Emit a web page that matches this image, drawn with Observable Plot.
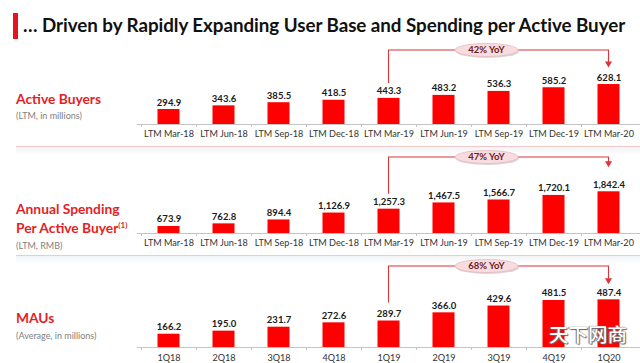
<!DOCTYPE html>
<html><head><meta charset="utf-8">
<script src="https://cdn.jsdelivr.net/npm/d3@7"></script>
<script src="https://cdn.jsdelivr.net/npm/@observablehq/plot@0.6"></script>
<style>
html,body{margin:0;padding:0;background:#fff;overflow:hidden;width:640px;height:363px;}
body{position:relative;font-family:Lato,"Open Sans",sans-serif;}
.abs{position:absolute;white-space:nowrap;}
.title{left:23px;top:13px;font-size:18.8px;font-weight:700;color:#111;letter-spacing:-0.05px;}
.tbar{left:13px;top:13px;width:5px;height:26px;background:#e8141b;}
.lab{color:#e31e24;font-weight:700;font-size:13.8px;line-height:17px;}
.sub{color:#808080;font-size:9px;}
.sep{left:16px;width:624px;height:1px;background:#efc9cc;}
.shade{left:16px;width:624px;height:8px;background:linear-gradient(#f3f4f6,#fff);}
.wm{left:549px;top:322px;font-family:"Noto Sans CJK SC";font-size:19.5px;line-height:24px;color:#fff;font-weight:500;
  text-shadow:0 0 1px #555,1px 1px 1px #666,-1px 0 1px #888;}
</style></head>
<body>
<div class="abs tbar"></div>
<div class="abs title">… Driven by Rapidly Expanding User Base and Spending per Active Buyer</div>

<div class="abs lab" style="left:16px;top:90px;">Active Buyers</div>
<div class="abs sub" style="left:16px;top:110px;">(LTM, in millions)</div>
<div class="abs sep" style="top:146px;"></div>
<div class="abs shade" style="top:147px;"></div>

<div class="abs lab" style="left:16px;top:200px;">Annual Spending<br>Per Active Buyer<sup style="font-size:8px;vertical-align:5px;">(1)</sup></div>
<div class="abs sub" style="left:16px;top:240px;">(LTM, RMB)</div>
<div class="abs sep" style="top:255px;"></div>
<div class="abs shade" style="top:256px;"></div>

<div class="abs lab" style="left:16px;top:309px;">MAUs</div>
<div class="abs sub" style="left:16px;top:330px;">(Average, in millions)</div>

<div id="p1" class="abs" style="left:0;top:38px;"></div>
<div id="p2" class="abs" style="left:0;top:145px;"></div>
<div id="p3" class="abs" style="left:0;top:255px;"></div>
<div class="abs wm">天下网商</div>

<script>
// ---- data ----
const ltmPeriods = ["LTM Mar-18","LTM Jun-18","LTM Sep-18","LTM Dec-18","LTM Mar-19","LTM Jun-19","LTM Sep-19","LTM Dec-19","LTM Mar-20"];
const quarters = ["1Q18","2Q18","3Q18","4Q18","1Q19","2Q19","3Q19","4Q19","1Q20"];
const activeBuyers = [294.9,343.6,385.5,418.5,443.3,483.2,536.3,585.2,628.1];
const annualSpending = [673.9,762.8,894.4,1126.9,1257.3,1467.5,1566.7,1720.1,1842.4];
const maus = [166.2,195.0,231.7,272.6,289.7,366.0,429.6,481.5,487.4];
const yoyLabels = ["42% YoY","47% YoY","68% YoY"];
const yoyFrom = [4,4,4];   // index of year-ago period
const yoyTo = [8,8,8];     // index of latest period

function panel(el, cats, vals, fmt, yoy, fromI, toI, L) {
  const data = cats.map((c,i)=>({c, v: vals[i]}));
  const fig = Plot.plot({
    width: 640, height: L.height,
    marginLeft: 137, marginRight: 0, marginTop: L.mt, marginBottom: L.mb,
    x: {type: "band", domain: cats, padding: 0, tickSize: 0, tickPadding: L.tp, label: null},
    y: {domain: [L.base, L.top], axis: null},
    style: {fontFamily: "Lato, 'Open Sans', sans-serif", fontSize: "9.1px", color: "#333", background: "transparent", overflow: "visible"},
    marks: [
      Plot.barY(data, {x: "c", y1: () => L.base, y2: "v", fill: "#ff0000", insetLeft: 16.5, insetRight: 16.5}),
      Plot.ruleY([L.base], {stroke: "#c4c4c4", strokeWidth: 1}),
      Plot.text(data, {x: "c", y: "v", text: d => fmt(d.v), dy: -4, lineAnchor: "bottom",
        fontWeight: 700, fontSize: 9.5, fill: "#1a1a1a"})
    ]
  });
  el.appendChild(fig);
  const xs = fig.scale("x"), ys = fig.scale("y");
  const svg = d3.select(fig);
  const cx = c => xs.apply(c) + xs.bandwidth / 2;
  const baseY = ys.apply(L.base);
  // separator ticks between categories
  const g = svg.append("g");
  cats.forEach(c => {
    const x = xs.apply(c) + 0.5;
    g.append("line").attr("x1", x).attr("x2", x).attr("y1", baseY).attr("y2", baseY + 3)
      .attr("stroke", "#c4c4c4");
  });
  // YoY bracket
  const x1 = cx(cats[fromI]), x2 = cx(cats[toI]);
  const lvl = ys.apply(L.top);
  const yA = ys.apply(vals[fromI]) - L.gapL;
  const yB = ys.apply(vals[toI]) - L.gapR;
  const col = "#e0323a";
  svg.append("path").attr("d", `M${x1},${yA}V${lvl}H${x2}V${yB - 5}`)
    .attr("fill", "none").attr("stroke", col).attr("stroke-width", 1.1);
  svg.append("path").attr("d", `M${x2 - 3.5},${yB - 6}L${x2 + 3.5},${yB - 6}L${x2},${yB}Z`).attr("fill", col);
  const ex = (x1 + x2) / 2 - 12;
  svg.append("ellipse").attr("cx", ex + 1).attr("cy", lvl + 1.5).attr("rx", 31.5).attr("ry", 6.5).attr("fill", "#d8d8d8");
  svg.append("ellipse").attr("cx", ex).attr("cy", lvl).attr("rx", 31.5).attr("ry", 6.5)
    .attr("fill", "#f8dcdf").attr("stroke", "#eab7bc").attr("stroke-width", 0.8);
  svg.append("text").attr("x", ex).attr("y", lvl).attr("dy", "0.35em").attr("text-anchor", "middle")
    .attr("font-size", 9.5).attr("font-weight", 700).attr("fill", "#6e1b1b").text(yoy);
}

const f1 = d3.format(".1f"), f2 = d3.format(",.1f");
panel(document.getElementById("p1"), ltmPeriods, activeBuyers, f1, yoyLabels[0], yoyFrom[0], yoyTo[0],
  {height: 102, mt: 12, mb: 16, tp: 6, base: 95, top: 1082, gapL: 15, gapR: 16.5});
panel(document.getElementById("p2"), ltmPeriods, annualSpending, f2, yoyLabels[1], yoyFrom[1], yoyTo[1],
  {height: 105, mt: 12, mb: 17, tp: 6, base: 438, top: 2997, gapL: 15, gapR: 24});
panel(document.getElementById("p3"), quarters, maus, f1, yoyLabels[2], yoyFrom[2], yoyTo[2],
  {height: 108, mt: 11, mb: 16, tp: 7, base: 42, top: 799, gapL: 18, gapR: 15});
</script>
</body></html>
